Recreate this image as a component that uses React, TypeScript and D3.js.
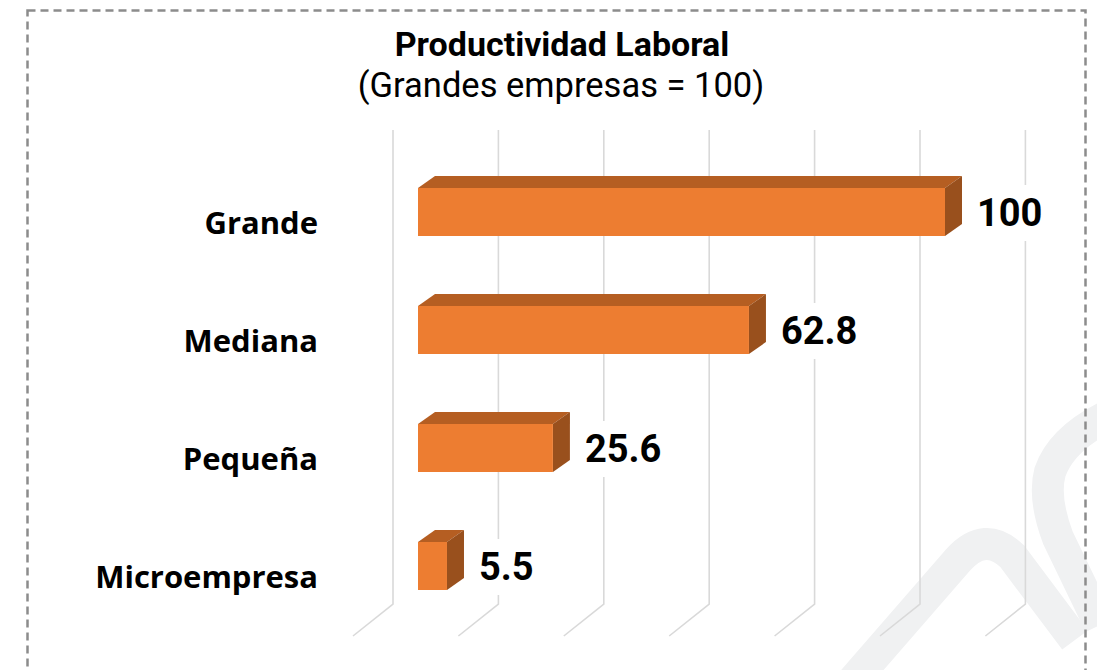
import React, { useEffect, useRef } from 'react';
import * as d3 from 'd3';

const categories = ['Grande', 'Mediana', 'Pequeña', 'Microempresa'];
const values = [100, 62.8, 25.6, 5.5];
const valueLabels = ['100', '62.8', '25.6', '5.5'];
const gridTicks = [0, 20, 40, 60, 80, 100, 120];

const W = 1097;
const H = 670;

const App = () => {
  const svgRef = useRef<SVGSVGElement>(null);

  useEffect(() => {
    const svg = d3.select(svgRef.current);
    svg.selectAll('*').remove();

    // escala horizontal (cara frontal de las barras)
    const xScale = d3.scaleLinear().domain([0, 100]).range([418, 945]);
    // centros de cada categoria
    const yScale = d3.scalePoint<string>().domain(categories).range([212, 566]);

    const barH = 48;
    const depthX = 17;
    const depthY = -12;
    const wallShift = -25;
    const gridTop = 130;
    const gridBottom = 604;
    const floorDx = -40;
    const floorDy = 32;

    // marca de agua
    const wm = svg.append('g').attr('fill', 'none').attr('stroke', '#f0f1f2').attr('stroke-width', 32);
    wm.append('path').attr('d', 'M 845 690 L 958 560 Q 985 530 1012 556 L 1075 640');
    wm.append('path').attr('d', 'M 1110 415 Q 1062 438 1050 472 Q 1043 498 1058 538 L 1100 625');

    // borde punteado
    svg.append('rect')
      .attr('x', 27.5).attr('y', 10.5)
      .attr('width', 1058).attr('height', 700)
      .attr('fill', 'none')
      .attr('stroke', '#8c8c8c')
      .attr('stroke-width', 2.5)
      .attr('stroke-dasharray', '8,5');

    // lineas de cuadricula (pared + piso)
    svg.append('g').selectAll('path')
      .data(gridTicks)
      .enter()
      .append('path')
      .attr('d', d => {
        const x = xScale(d) + wallShift;
        return `M ${x} ${gridTop} L ${x} ${gridBottom} L ${x + floorDx} ${gridBottom + floorDy}`;
      })
      .attr('fill', 'none')
      .attr('stroke', '#d9d9d9')
      .attr('stroke-width', 1.6);

    const bars = svg.append('g').selectAll('g')
      .data(values)
      .enter()
      .append('g');

    const x0 = xScale(0);
    // cara superior
    bars.append('path')
      .attr('d', (d, i) => {
        const top = yScale(categories[i])! - barH / 2;
        const x1 = xScale(d);
        return `M ${x0} ${top} L ${x0 + depthX} ${top + depthY} L ${x1 + depthX} ${top + depthY} L ${x1} ${top} Z`;
      })
      .attr('fill', '#b55e22');
    // cara lateral
    bars.append('path')
      .attr('d', (d, i) => {
        const top = yScale(categories[i])! - barH / 2;
        const x1 = xScale(d);
        return `M ${x1} ${top} L ${x1 + depthX} ${top + depthY} L ${x1 + depthX} ${top + depthY + barH} L ${x1} ${top + barH} Z`;
      })
      .attr('fill', '#99501d');
    // cara frontal
    bars.append('rect')
      .attr('x', x0)
      .attr('y', (d, i) => yScale(categories[i])! - barH / 2)
      .attr('width', d => xScale(d) - x0)
      .attr('height', barH)
      .attr('fill', '#ed7d31');

    // etiquetas de valor con fondo blanco
    const labels = svg.append('g').selectAll('g')
      .data(values)
      .enter()
      .append('g')
      .attr('transform', (d, i) => `translate(${xScale(d) + 32},${yScale(categories[i])! + 1})`);

    labels.append('rect')
      .attr('x', -6)
      .attr('y', -28)
      .attr('width', (d, i) => valueLabels[i].length * 20 + 10)
      .attr('height', 56)
      .attr('fill', '#fff');

    labels.append('text')
      .text((d, i) => valueLabels[i])
      .attr('dominant-baseline', 'central')
      .attr('font-family', 'Roboto')
      .attr('font-weight', 700)
      .attr('font-size', 38)
      .attr('fill', '#000');

    // etiquetas de categoria
    svg.append('g').selectAll('text')
      .data(categories)
      .enter()
      .append('text')
      .text(d => d)
      .attr('x', 318)
      .attr('y', d => yScale(d)! + 10)
      .attr('text-anchor', 'end')
      .attr('dominant-baseline', 'central')
      .attr('font-family', 'Open Sans')
      .attr('font-weight', 700)
      .attr('font-size', 31)
      .attr('fill', '#000');

    // titulo
    svg.append('text')
      .text('Productividad Laboral')
      .attr('x', 562)
      .attr('y', 56)
      .attr('text-anchor', 'middle')
      .attr('font-family', 'Roboto')
      .attr('font-weight', 700)
      .attr('font-size', 34)
      .attr('fill', '#000');

    svg.append('text')
      .text('(Grandes empresas = 100)')
      .attr('x', 561)
      .attr('y', 97)
      .attr('text-anchor', 'middle')
      .attr('font-family', 'Roboto')
      .attr('font-size', 34.5)
      .attr('fill', '#000');
  }, []);

  return (
    <svg
      ref={svgRef}
      width={W}
      height={H}
      style={{ position: 'absolute', left: 0, top: 0, background: '#fff' }}
    />
  );
};

export default App;
